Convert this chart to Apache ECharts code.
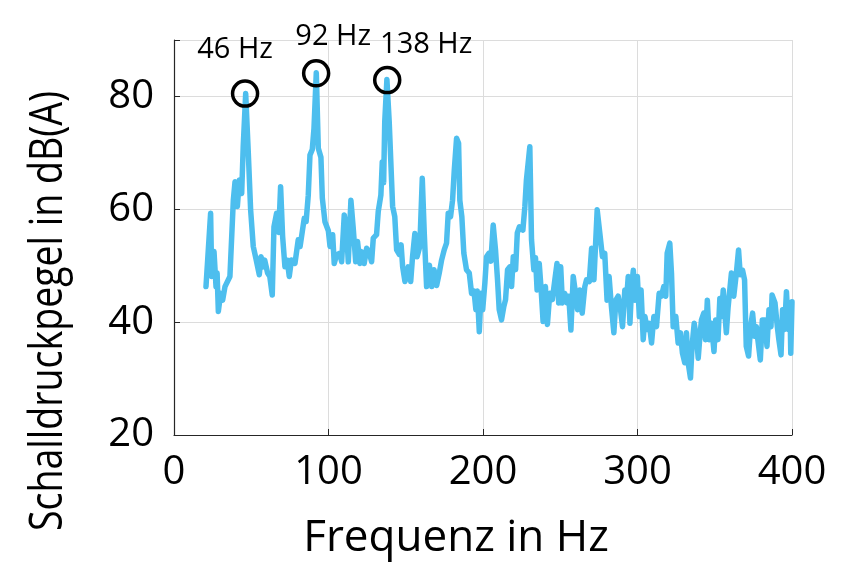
<!DOCTYPE html>
<html><head><meta charset="utf-8">
<script src="https://cdn.jsdelivr.net/npm/echarts@6/dist/echarts.min.js"></script>
<style>html,body{margin:0;padding:0;background:#fff}#c{width:849px;height:564px}</style>
</head><body><div id="c"></div>
<script>
const freq = [20.7,23.7,24.4,25.9,27.2,27.9,28.7,30.2,31.5,33,34,36.2,38.4,39.5,41,42.3,43.8,44.8,46.4,48.1,49.6,51.3,53,55.2,56.3,57.7,58.7,60.6,62,63.6,64.7,66.4,67.8,69,70.3,71.8,73.3,74.6,76,78.3,80.4,
81.6,84.3,85.5,86.9,88,89.5,90.6,92.1,93.4,95.1,96,97.7,99.9,101,102.7,103.7,105.2,107.3,108.5,110.2,111.7,112.8,114.5,116,117.6,118.8,120.3,121.4,123.1,124.7,126.2,127.9,129,131.1,132.2,133.9,134.8,135.7,136.4,137.8,139.3,
141.5,142.9,144.1,145.8,147,148,149.5,151.6,153.2,154.4,155.9,157.3,159.1,160.7,162,163.5,165.3,166.8,168.3,170,171.7,173.2,174.9,176.4,177.5,179,180.3,181.4,182.9,184.2,185,186.3,187.6,189.3,191.1,192.6,194.2,195.4,196.3,197.6,198.7,199.8,
201.2,202.3,203.8,205.1,206.6,208.1,209.4,210.5,212,213.5,214.6,215.9,217.4,218.5,219.6,221.1,222.2,223.6,225.8,227.1,228.1,229.2,230.3,231.4,232.9,234,235,236.4,237.5,238.9,240.4,241.7,243.2,244.9,246.5,247.9,249,250.3,251.4,252.9,254.4,255.5,256.9,258.4,259.9,261.2,262.7,264.2,
265.9,267,268.8,270.3,271.8,273.9,275.6,277.3,278.8,280.3,281.6,283.1,284.7,286,287.5,289,290.3,291.8,292.9,294,295.1,296.2,297.3,298.4,299.9,301.2,302.3,303.7,304.8,306.3,307.6,309.1,310.6,312.3,314,315.5,317,318.3,319.2,320.9,322,323.1,324.8,326.3,327.8,329.1,330.6,
331.7,332.8,334.3,335.3,336.7,338.3,339.3,340.4,341.4,342.9,344,345.2,346.5,347.8,349.5,350.6,352.1,353.3,354.4,355.5,356.5,357.5,358.6,360.8,362.3,364,365.4,366.5,368,369.3,370.4,371.9,373.2,374.5,375.8,376.9,377.9,379.5,380.8,382.5,383.8,385.1,386.4,387.1,389,390.5,391.5,392.9,393.9,395.2,396.4,397.7,398.7,399.2,400];
const level = [46.3,59.3,48.1,52.5,46.3,48.7,41.9,45.1,43.9,46.3,46,48.1,61.6,64.9,60.5,65.2,62.8,71.1,80.5,69.9,59.9,53.4,51.3,48.4,51.6,49.8,51,48.7,48.1,44.8,56.9,59.3,55.9,64,55.2,49.8,51,48.1,51,50.4,54.6,
53.4,58.4,57.8,62.5,69.6,70.6,74.3,84.2,70.8,69.2,62,57.8,56.2,53.4,55.5,50.4,51.9,52.2,50.7,59,56.3,50.7,61.6,56.7,50.7,54.3,50.4,52.5,50.4,53.1,52.5,50.7,54.9,55.5,59.6,62.5,68.4,64.7,75.5,83,75.5,
60.5,58.7,52.8,52,53.7,49.8,47.2,49.8,47.2,51.6,55.7,51.6,53.4,65.5,55.7,46.3,50.1,46.3,49.3,46.5,48.7,51,52.8,54,59.3,58.7,61.6,66.9,72.6,71.7,61.6,58.7,52.2,49.3,48.7,45.1,45.5,42.2,45.5,38.3,45.1,42.2,
46.9,51.6,52.2,50.8,57.2,52.8,47.5,42.2,40.4,42.8,44,49.3,49.8,46.3,51.6,49.3,55.8,56.9,56.3,60.5,65.2,68.1,71.1,54.6,49.3,51.4,45.7,50.4,46.3,40.1,46.3,39.6,45.1,44,47.5,50.4,43.4,49.8,43.4,45.1,43.4,44.6,38.6,48.1,45.1,42.2,45.7,41.6,
46.3,47.5,47.2,53.1,47.5,59.9,55.8,51.6,52.2,43.9,48.1,42.8,38.1,43.9,44.6,42.2,39.2,45.7,43.9,48.1,39.8,46.3,49.2,43.9,48.1,41,45.7,36.9,41,38.7,39.8,36.3,41,39.2,45.1,44.6,46.3,44.6,52.2,54,48.7,39.2,41,36.3,38.1,34.5,32.8,
38.1,32.8,30.1,35.7,39.8,36.9,33.6,37.5,40.4,41.6,36.9,43.9,36.9,39.8,34.8,40.4,36.9,44.2,41,45.7,41.6,38.1,42.5,48.7,44.6,48.7,52.8,48.4,49.2,47.5,35.7,34,39.2,41.6,37.5,39.2,36.9,33.3,40.4,40.4,35.7,42.2,39.2,44.8,43.4,39.2,36.9,34.2,42.2,38.7,45.4,38.7,42.8,34.5,43.6];
const peakFreq = [46, 92, 138];
const peakLevel = [80.5, 84.1, 82.9];
const peakLabels = ['46 Hz', '92 Hz', '138 Hz'];
const xTicks = [0, 100, 200, 300, 400];
const yTicks = [20, 40, 60, 80];
const xTitle = 'Frequenz in Hz';
const yTitle = 'Schalldruckpegel in dB(A)';

const labelOffsets = [[-10, -44], [17, -37], [39, -35]];
const FONT = '"Open Sans", sans-serif';

const chart = echarts.init(document.getElementById('c'));
const lineData = freq.map((f, i) => [f, level[i]]);
const peakData = peakFreq.map((f, i) => ({
  value: [f, peakLevel[i]],
  label: { show: true, formatter: peakLabels[i], offset: labelOffsets[i] }
}));
chart.setOption({
  animation: false,
  grid: { left: 174, right: 57, top: 40, bottom: 129 },
  xAxis: {
    type: 'value', min: 0, max: 400, interval: 100,
    axisLine: { show: true, lineStyle: { color: '#262626', width: 1.2 } },
    axisTick: { show: true, inside: true, length: 6, lineStyle: { color: '#262626' } },
    axisLabel: { color: '#000', fontSize: 40, fontFamily: FONT, margin: 18,
      formatter: v => (xTicks.indexOf(v) >= 0 ? String(v) : '') },
    splitLine: { show: true, lineStyle: { color: '#dcdcdc', width: 1 } }
  },
  yAxis: {
    type: 'value', min: 20, max: 90, interval: 20,
    axisLine: { show: true, lineStyle: { color: '#262626', width: 1.2 } },
    axisTick: { show: true, inside: true, length: 6, lineStyle: { color: '#262626' } },
    axisLabel: { color: '#000', fontSize: 40, fontFamily: FONT, margin: 20,
      formatter: v => (yTicks.indexOf(v) >= 0 ? String(v) : '') },
    splitLine: { show: true, lineStyle: { color: '#dcdcdc', width: 1 } }
  },
  graphic: [
    { type: 'text', x: 456, y: 516, style: { text: xTitle, font: '44px ' + FONT, fill: '#000', align: 'center', verticalAlign: 'top' } },
    { type: 'text', x: 49, y: 311, rotation: Math.PI / 2, scaleX: 0.815, style: { text: yTitle, font: '46px ' + FONT, fill: '#000', align: 'center', verticalAlign: 'middle' } }
  ],
  series: [
    {
      type: 'line', data: lineData, showSymbol: false, smooth: false,
      lineStyle: { color: '#4DBEEE', width: 5.5, join: 'round', cap: 'round' }, z: 2
    },
    {
      type: 'scatter', data: peakData, symbol: 'circle', symbolSize: 25,
      itemStyle: { color: 'rgba(0,0,0,0)', borderColor: '#000', borderWidth: 3.5, opacity: 1 },
      label: { color: '#000', fontSize: 29, fontFamily: FONT, position: 'inside' },
      z: 5
    }
  ]
});
</script></body></html>
